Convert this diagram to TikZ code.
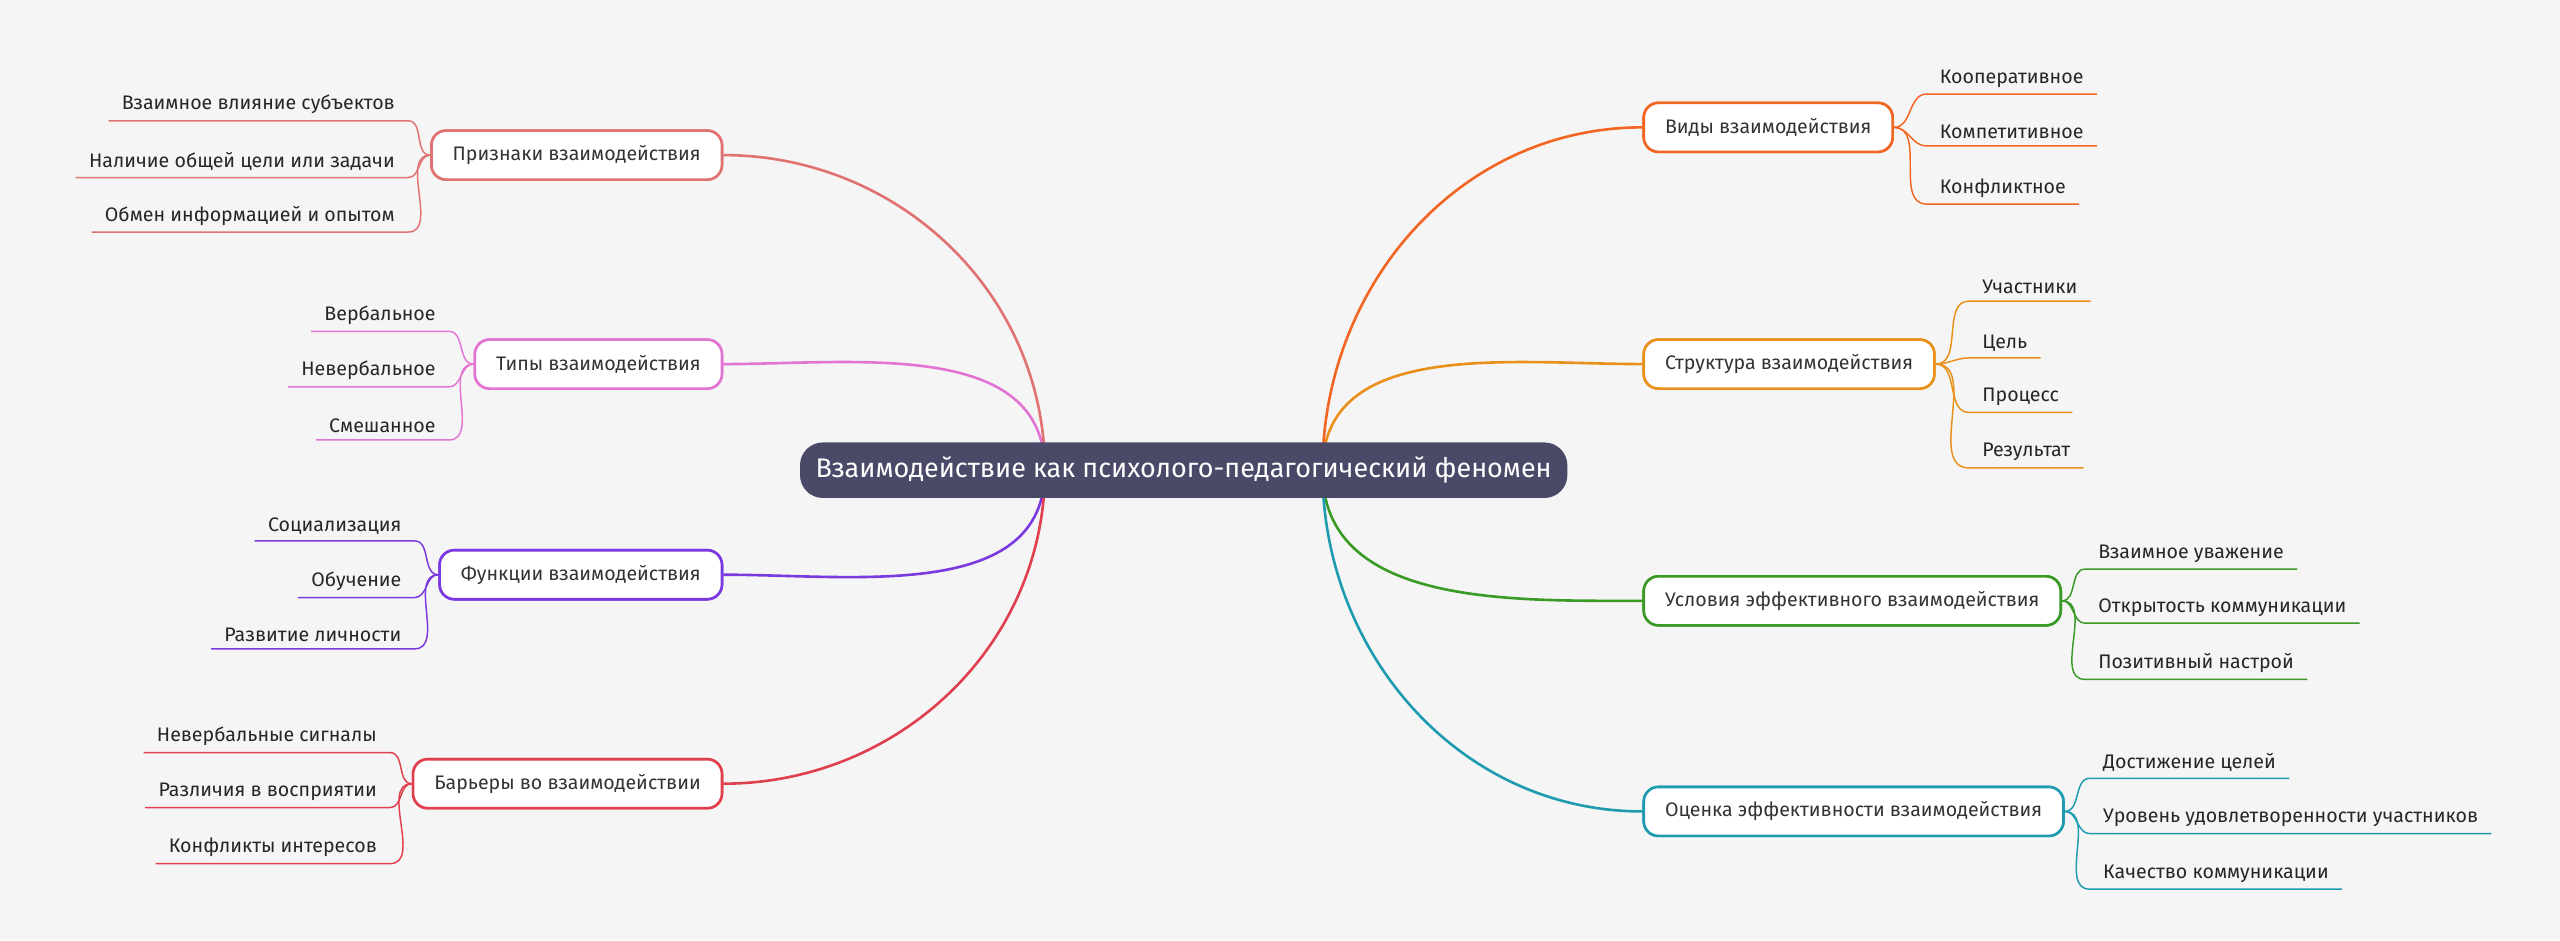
\documentclass[tikz,border=0pt]{standalone}
\usepackage{fontspec}
\setmainfont{Fira Sans}
\begin{document}
\begin{tikzpicture}[x=1pt,y=1pt,
  box/.style={draw=#1,line width=1.6pt,fill=white,rounded corners=9pt,minimum height=30pt,inner xsep=13pt,font=\fontsize{12}{14}\selectfont,text=black!80},
  kid/.style={inner xsep=8pt,inner ysep=4pt,font=\fontsize{12}{14}\selectfont,text=black!85},
  bl/.style={draw=#1,line width=1.6pt},
  kl/.style={draw=#1,line width=0.9pt}]
\definecolor{cA}{HTML}{F26522}\definecolor{cB}{HTML}{E8901A}\definecolor{cC}{HTML}{3A9A26}\definecolor{cD}{HTML}{1F9BB0}
\definecolor{cE}{HTML}{E07272}\definecolor{cF}{HTML}{E274D4}\definecolor{cG}{HTML}{7B3AE0}\definecolor{cH}{HTML}{E0404E}
\definecolor{bg}{HTML}{F5F5F5}\definecolor{rootc}{HTML}{4A4A68}
\fill[bg] (0,0) rectangle (1568,-576);
\useasboundingbox (0,0) rectangle (1568,-576);
\coordinate (rR) at (810,-288); \coordinate (rL) at (640,-288);
% right boxes
\node[box=cA,anchor=west] (b1) at (1006,-78) {Виды взаимодействия};
\node[box=cB,anchor=west] (b2) at (1006,-223) {Структура взаимодействия};
\node[box=cC,anchor=west] (b3) at (1006,-368) {Условия эффективного взаимодействия};
\node[box=cD,anchor=west] (b4) at (1006,-497) {Оценка эффективности взаимодействия};
% left boxes
\node[box=cE,anchor=east] (b5) at (443,-95) {Признаки взаимодействия};
\node[box=cF,anchor=east] (b6) at (443,-223) {Типы взаимодействия};
\node[box=cG,anchor=east] (b7) at (443,-352) {Функции взаимодействия};
\node[box=cH,anchor=east] (b8) at (443,-480) {Барьеры во взаимодействии};
% main curves
\begin{scope}[on background layer/.style={}]
\draw[bl=cA] (rR) to[out=90,in=180] (b1.west);
\draw[bl=cB] (rR) to[out=90,in=180] (b2.west);
\draw[bl=cC] (rR) to[out=-90,in=180] (b3.west);
\draw[bl=cD] (rR) to[out=-90,in=180] (b4.west);
\draw[bl=cE] (rL) to[out=90,in=0] (b5.east);
\draw[bl=cF] (rL) to[out=90,in=0] (b6.east);
\draw[bl=cG] (rL) to[out=-90,in=0] (b7.east);
\draw[bl=cH] (rL) to[out=-90,in=0] (b8.east);
\end{scope}
% redraw boxes on top
\foreach \n/\c in {b1/cA,b2/cB,b3/cC,b4/cD,b5/cE,b6/cF,b7/cG,b8/cH}{}
\node[box=cA,anchor=west] at (1006,-78) {Виды взаимодействия};
\node[box=cB,anchor=west] at (1006,-223) {Структура взаимодействия};
\node[box=cC,anchor=west] at (1006,-368) {Условия эффективного взаимодействия};
\node[box=cD,anchor=west] at (1006,-497) {Оценка эффективности взаимодействия};
\node[box=cE,anchor=east] at (443,-95) {Признаки взаимодействия};
\node[box=cF,anchor=east] at (443,-223) {Типы взаимодействия};
\node[box=cG,anchor=east] at (443,-352) {Функции взаимодействия};
\node[box=cH,anchor=east] at (443,-480) {Барьеры во взаимодействии};
% root
\node[fill=rootc,rounded corners=14pt,minimum height=34pt,minimum width=470pt,text=white,font=\fontsize{16.5}{19}\selectfont] (root) at (725,-288) {Взаимодействие как психолого-педагогический феномен};
% right children
\foreach \b/\c/\x/\lst in {b1/cA/1180/{48/Кооперативное,81/Компетитивное,115/Конфликтное},
  b2/cB/1206/{176/Участники,210/Цель,243/Процесс,277/Результат},
  b3/cC/1277/{339/Взаимное уважение,372/Открытость коммуникации,406/Позитивный настрой},
  b4/cD/1280/{467/Достижение целей,501/Уровень удовлетворенности участников,535/Качество коммуникации}}{
  \foreach \y/\t [count=\i] in \lst {
    \node[kid,anchor=west] (k\b\i) at (\x,-\y) {\t};
    \draw[kl=\c] (\b.east) to[out=0,in=180] (k\b\i.south west) -- (k\b\i.south east);
  }}
% left children
\foreach \b/\c/\x/\lst in {b5/cE/250/{64/Взаимное влияние субъектов,99/Наличие общей цели или задачи,132/Обмен информацией и опытом},
  b6/cF/275/{193/Вербальное,227/Невербальное,261/Смешанное},
  b7/cG/254/{322/Социализация,356/Обучение,389/Развитие личности},
  b8/cH/239/{451/Невербальные сигналы,485/Различия в восприятии,519/Конфликты интересов}}{
  \foreach \y/\t [count=\i] in \lst {
    \node[kid,anchor=east] (k\b\i) at (\x,-\y) {\t};
    \draw[kl=\c] (\b.west) to[out=180,in=0] (k\b\i.south east) -- (k\b\i.south west);
  }}
\end{tikzpicture}
\end{document}
